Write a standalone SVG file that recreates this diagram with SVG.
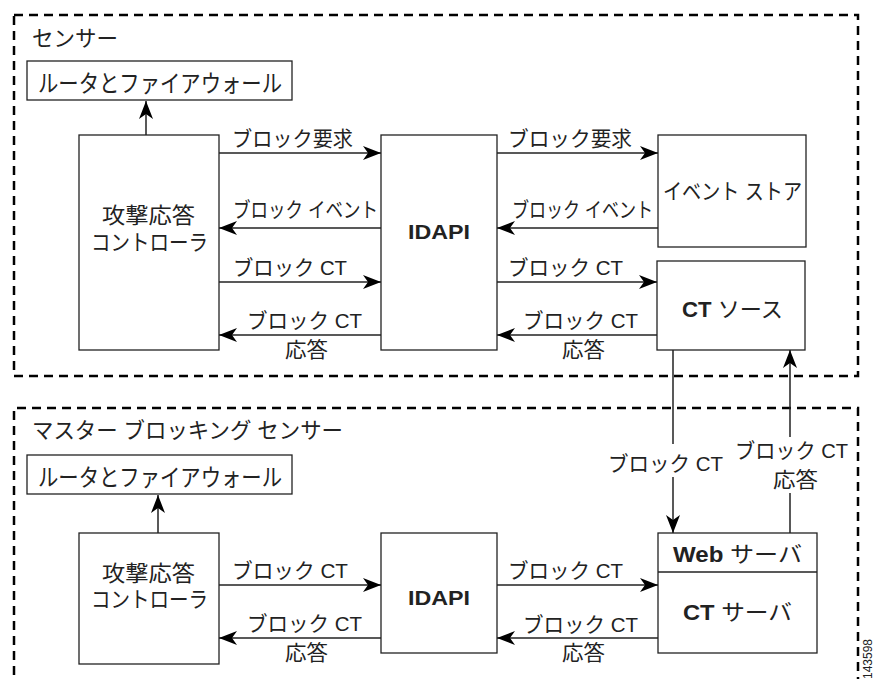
<svg xmlns="http://www.w3.org/2000/svg" width="874" height="679" viewBox="0 0 874 679">
<defs>
<marker id="ah" markerUnits="userSpaceOnUse" markerWidth="20" markerHeight="14" refX="18" refY="7" orient="auto">
<path d="M0,0 L18,7 L0,14 L5,7 z" fill="#000"/>
</marker>
<style>
.zone{fill:none;stroke:#000;stroke-width:2.5;stroke-dasharray:9,6}
.box{fill:#fff;stroke:#222;stroke-width:1.3}
.t{font-family:"Liberation Sans","Noto Sans CJK JP",sans-serif;font-size:21px;fill:#222}
.n{font-size:22px}
.r{font-size:24px}
.b{font-weight:bold}
.ln{stroke:#222;stroke-width:1.5;fill:none;marker-end:url(#ah)}
</style>
</defs>
<rect width="874" height="679" fill="#fff"/>
<g id="zone-sensor">
<rect class="zone" x="14" y="15" width="844" height="361"/>
<text class="t n" x="32" y="46" textLength="86" lengthAdjust="spacingAndGlyphs">センサー</text>
</g>
<g id="zone-master">
<path class="zone" d="M14,690 V408 H858 V690"/>
<text class="t n" x="32" y="438" textLength="311" lengthAdjust="spacingAndGlyphs">マスター ブロッキング センサー</text>
</g>
<g id="router1"><rect class="box" x="27" y="61" width="265" height="39"/><text class="t r" x="38" y="92" textLength="244" lengthAdjust="spacingAndGlyphs">ルータとファイアウォール</text></g>
<g id="controller1"><rect class="box" x="79" y="135" width="140" height="215"/><text class="t n" x="102" y="223" textLength="93" lengthAdjust="spacingAndGlyphs">攻撃応答</text><text class="t n" x="91" y="250" textLength="117" lengthAdjust="spacingAndGlyphs">コントローラ</text></g>
<g id="idapi1"><rect class="box" x="381" y="135" width="116" height="215"/><text class="t b" x="408" y="239" font-size="23" textLength="62" lengthAdjust="spacingAndGlyphs">IDAPI</text></g>
<g id="eventstore"><rect class="box" x="658" y="135" width="148" height="112"/><text class="t n" x="663" y="199" textLength="139" lengthAdjust="spacingAndGlyphs">イベント ストア</text></g>
<g id="ctsource"><rect class="box" x="657" y="261" width="148" height="89"/><text class="t n" x="682" y="317" textLength="101" lengthAdjust="spacingAndGlyphs"><tspan class="b">CT</tspan> ソース</text></g>
<g id="router2"><rect class="box" x="27" y="455" width="265" height="39"/><text class="t r" x="38" y="486" textLength="244" lengthAdjust="spacingAndGlyphs">ルータとファイアウォール</text></g>
<g id="controller2"><rect class="box" x="79" y="533" width="140" height="131"/><text class="t n" x="102" y="581" textLength="93" lengthAdjust="spacingAndGlyphs">攻撃応答</text><text class="t n" x="91" y="607" textLength="117" lengthAdjust="spacingAndGlyphs">コントローラ</text></g>
<g id="idapi2"><rect class="box" x="381" y="533" width="116" height="120"/><text class="t b" x="408" y="605" font-size="23" textLength="62" lengthAdjust="spacingAndGlyphs">IDAPI</text></g>
<g id="ctserver"><rect class="box" x="658" y="533" width="159" height="120"/><line x1="658" y1="572" x2="817" y2="572" stroke="#222" stroke-width="1.3"/><text class="t n" x="673" y="562" textLength="129" lengthAdjust="spacingAndGlyphs"><tspan class="b">Web</tspan> サーバ</text><text class="t n" x="683" y="620" textLength="109" lengthAdjust="spacingAndGlyphs"><tspan class="b">CT</tspan> サーバ</text></g>
<g id="connectors">
<line class="ln" x1="146" y1="135" x2="146" y2="101"/>
<line class="ln" x1="219" y1="153" x2="381" y2="153"/>
<text class="t" x="232" y="146" textLength="121" lengthAdjust="spacingAndGlyphs">ブロック要求</text>
<line class="ln" x1="497" y1="153" x2="658" y2="153"/>
<text class="t" x="508" y="146" textLength="124" lengthAdjust="spacingAndGlyphs">ブロック要求</text>
<line class="ln" x1="381" y1="228" x2="219" y2="228"/>
<text class="t" x="233" y="217" textLength="145" lengthAdjust="spacingAndGlyphs">ブロック イベント</text>
<line class="ln" x1="658" y1="228" x2="497" y2="228"/>
<text class="t" x="512" y="217" textLength="141" lengthAdjust="spacingAndGlyphs">ブロック イベント</text>
<line class="ln" x1="219" y1="282" x2="381" y2="282"/>
<text class="t" x="233" y="275" textLength="114" lengthAdjust="spacingAndGlyphs">ブロック CT</text>
<line class="ln" x1="497" y1="282" x2="657" y2="282"/>
<text class="t" x="508" y="275" textLength="115" lengthAdjust="spacingAndGlyphs">ブロック CT</text>
<line class="ln" x1="381" y1="335" x2="219" y2="335"/>
<text class="t" x="247" y="328" textLength="115" lengthAdjust="spacingAndGlyphs">ブロック CT</text>
<text class="t" x="285" y="357" textLength="43" lengthAdjust="spacingAndGlyphs">応答</text>
<line class="ln" x1="657" y1="335" x2="497" y2="335"/>
<text class="t" x="523" y="328" textLength="115" lengthAdjust="spacingAndGlyphs">ブロック CT</text>
<text class="t" x="562" y="357" textLength="43" lengthAdjust="spacingAndGlyphs">応答</text>
<line class="ln" x1="673" y1="350" x2="673" y2="533"/>
<rect x="606" y="444" width="119" height="33" fill="#fff"/>
<text class="t" x="608" y="471" textLength="115" lengthAdjust="spacingAndGlyphs">ブロック CT</text>
<line class="ln" x1="790" y1="533" x2="790" y2="350"/>
<rect x="733" y="437" width="117" height="56" fill="#fff"/>
<text class="t" x="735" y="458" textLength="113" lengthAdjust="spacingAndGlyphs">ブロック CT</text>
<text class="t" x="773" y="487" textLength="45" lengthAdjust="spacingAndGlyphs">応答</text>
<line class="ln" x1="158" y1="533" x2="158" y2="495"/>
<line class="ln" x1="219" y1="585" x2="381" y2="585"/>
<text class="t" x="232" y="578" textLength="116" lengthAdjust="spacingAndGlyphs">ブロック CT</text>
<line class="ln" x1="497" y1="585" x2="658" y2="585"/>
<text class="t" x="508" y="578" textLength="115" lengthAdjust="spacingAndGlyphs">ブロック CT</text>
<line class="ln" x1="381" y1="638" x2="219" y2="638"/>
<text class="t" x="247" y="631" textLength="115" lengthAdjust="spacingAndGlyphs">ブロック CT</text>
<text class="t" x="285" y="660" textLength="43" lengthAdjust="spacingAndGlyphs">応答</text>
<line class="ln" x1="658" y1="638" x2="497" y2="638"/>
<text class="t" x="523" y="632" textLength="115" lengthAdjust="spacingAndGlyphs">ブロック CT</text>
<text class="t" x="562" y="660" textLength="43" lengthAdjust="spacingAndGlyphs">応答</text>
</g>
<text x="872" y="679" transform="rotate(-90 872 679)" font-family="Liberation Sans, sans-serif" font-size="12" fill="#222">143598</text>
</svg>
